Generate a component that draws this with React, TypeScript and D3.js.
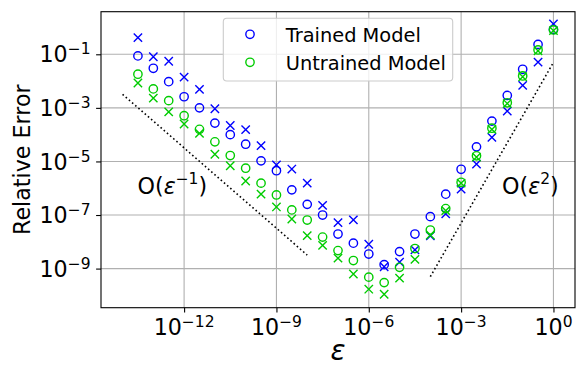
import React, { useEffect, useRef } from 'react';
import * as d3 from 'd3';

// epsilon values (half-decade steps, 10^-13.5 .. 10^0)
const eps = [
  3.16e-14, 1e-13, 3.16e-13, 1e-12, 3.16e-12, 1e-11, 3.16e-11, 1e-10, 3.16e-10, 1e-9,
  3.16e-9, 1e-8, 3.16e-8, 1e-7, 3.16e-7, 1e-6, 3.16e-6, 1e-5, 3.16e-5, 1e-4,
  3.16e-4, 1e-3, 3.16e-3, 1e-2, 3.16e-2, 1e-1, 3.16e-1, 1,
];

const trainedO = [
  8.7e-2, 3.0e-2, 9.5e-3, 2.6e-3, 1.0e-3, 2.7e-4, 1.0e-4, 4.4e-5, 1.05e-5, 4.5e-6,
  8.7e-7, 2.5e-7, 1.0e-7, 1.95e-8, 8.9e-9, 3.5e-9, 1.4e-9, 4.3e-9, 1.95e-8, 8.7e-8,
  6.0e-7, 5.1e-6, 3.5e-5, 3.2e-4, 2.9e-3, 2.75e-2, 0.234, 0.85,
];
const trainedX = [
  0.42, 8.1e-2, 5.5e-2, 1.4e-2, 4.9e-3, 9.3e-4, 2.2e-4, 1.55e-4, 3.9e-5, 7.4e-6,
  5.2e-6, 1.55e-6, 2.3e-7, 5.2e-8, 6.6e-8, 8.1e-9, 1.17e-9, 1.74e-9, 5.0e-9, 1.66e-8,
  1.1e-7, 9.3e-7, 7.9e-6, 7.9e-5, 7.6e-4, 6.9e-3, 5.1e-2, 1.35,
];
const untrainedO = [
  1.8e-2, 5.1e-3, 1.86e-3, 5.1e-4, 1.58e-4, 5.4e-5, 1.66e-5, 5.6e-6, 1.55e-6, 5.6e-7,
  1.55e-7, 6.5e-8, 1.5e-8, 4.7e-9, 2.0e-9, 4.8e-10, 3.0e-10, 1.12e-9, 5.6e-9, 2.75e-8,
  1.74e-7, 1.66e-6, 1.62e-5, 1.74e-4, 1.55e-3, 1.55e-2, 0.145, 0.81,
];
const untrainedX = [
  8.5e-3, 2.3e-3, 7.1e-4, 2.5e-4, 1.12e-4, 1.86e-5, 6.9e-6, 1.86e-6, 6.0e-7, 2.0e-7,
  7.1e-8, 1.7e-8, 7.4e-9, 2.45e-9, 6.3e-10, 1.7e-10, 1.1e-10, 4.4e-10, 2.2e-9, 1.8e-8,
  1.45e-7, 1.55e-6, 1.45e-5, 1.58e-4, 1.45e-3, 1.45e-2, 0.135, 0.76,
];

// reference slopes: O(eps^-1) and O(eps^2)
const slope1Eps = [1e-14, 1e-8];
const slope1Err = [3.2e-3, 3.2e-9];
const slope2Eps = [1e-4, 1];
const slope2Err = [5e-10, 5e-2];

const xTickExps = [-12, -9, -6, -3, 0];
const yTickExps = [-1, -3, -5, -7, -9];
const legendLabels = ['Trained Model', 'Untrained Model'];

const BLUE = '#0000ff';
const GREEN = '#00cc00';
const FONT = 'DejaVu Sans, sans-serif';

const App = () => {
  const svgRef = useRef<SVGSVGElement>(null);

  useEffect(() => {
    const width = 578;
    const height = 367;
    const svg = d3.select(svgRef.current).attr('width', width).attr('height', height);
    svg.selectAll('*').remove();

    const left = 101, right = 575, top = 11.7, bottom = 307.7;

    const x = d3.scaleLog().domain([10 ** -14.7, 10 ** 0.7]).range([left, right]);
    const y = d3.scaleLog().domain([10 ** -10.46, 10 ** 0.59]).range([bottom, top]);

    const xTicks = xTickExps.map((e) => 10 ** e);
    const yTicks = yTickExps.map((e) => 10 ** e);

    // grid
    const grid = svg.append('g').attr('stroke', '#b0b0b0').attr('stroke-width', 1.1);
    xTicks.forEach((t) => {
      grid.append('line').attr('x1', x(t)).attr('x2', x(t)).attr('y1', top).attr('y2', bottom);
    });
    yTicks.forEach((t) => {
      grid.append('line').attr('x1', left).attr('x2', right).attr('y1', y(t)).attr('y2', y(t));
    });

    // axes (ticks only, labels drawn with superscripts below)
    const xAxis = d3.axisBottom(x).tickValues(xTicks).tickSize(4.9).tickFormat(() => '');
    const yAxis = d3.axisLeft(y).tickValues(yTicks).tickSize(4.9).tickFormat(() => '');
    const gx = svg.append('g').attr('transform', `translate(0, ${bottom})`).call(xAxis);
    const gy = svg.append('g').attr('transform', `translate(${left}, 0)`).call(yAxis);
    [gx, gy].forEach((g) => {
      g.select('.domain').remove();
      g.selectAll('line').attr('stroke', '#000').attr('stroke-width', 1.1);
    });

    const supLabel = (sel, exp: number) => {
      sel.append('tspan').text('10');
      sel.append('tspan')
        .attr('font-size', 15.5)
        .attr('dy', -8)
        .text(exp < 0 ? `\u2212${Math.abs(exp)}` : `${exp}`);
    };

    xTickExps.forEach((e) => {
      const t = svg.append('text')
        .attr('x', x(10 ** e))
        .attr('y', 334.5)
        .attr('text-anchor', 'middle')
        .attr('font-family', FONT)
        .attr('font-size', 22.2)
        .attr('fill', '#000');
      supLabel(t, e);
    });
    yTickExps.forEach((e) => {
      const t = svg.append('text')
        .attr('x', 90.5)
        .attr('y', y(10 ** e) + 8.2)
        .attr('text-anchor', 'end')
        .attr('font-family', FONT)
        .attr('font-size', 22.2)
        .attr('fill', '#000');
      supLabel(t, e);
    });

    // axis titles
    svg.append('text')
      .attr('x', (left + right) / 2)
      .attr('y', 360)
      .attr('text-anchor', 'middle')
      .attr('font-family', FONT)
      .attr('font-style', 'italic')
      .attr('font-size', 27.8)
      .text('\u03b5');
    svg.append('text')
      .attr('transform', `translate(30, ${(top + bottom) / 2}) rotate(-90)`)
      .attr('text-anchor', 'middle')
      .attr('font-family', FONT)
      .attr('font-size', 22.2)
      .text('Relative Error');

    // reference slope lines
    const line = d3.line<[number, number]>().x((d) => x(d[0])).y((d) => y(d[1]));
    [[slope1Eps, slope1Err], [slope2Eps, slope2Err]].forEach(([ex, er]) => {
      svg.append('path')
        .datum(ex.map((v, i) => [v, er[i]] as [number, number]))
        .attr('d', line)
        .attr('fill', 'none')
        .attr('stroke', '#000')
        .attr('stroke-width', 1.6)
        .attr('stroke-dasharray', '1.6,2.6');
    });

    const annot = (ax: number, ay: number, sup: string) => {
      const t = svg.append('text')
        .attr('x', ax)
        .attr('y', ay)
        .attr('font-family', FONT)
        .attr('font-size', 22.2)
        .attr('fill', '#000');
      t.append('tspan').text('O(');
      t.append('tspan').attr('font-style', 'italic').text('\u03b5');
      t.append('tspan').attr('font-size', 15.5).attr('dy', -10.5).text(sup);
      t.append('tspan').attr('dy', 10.5).text(')');
    };
    annot(137.5, 194, '\u22121');
    annot(502, 194, '2');

    // markers
    const r = 4.17;
    const circles = (vals: number[], color: string) => {
      svg.append('g').selectAll('circle')
        .data(vals)
        .enter()
        .append('circle')
        .attr('cx', (d, i) => x(eps[i]))
        .attr('cy', (d) => y(d))
        .attr('r', r)
        .attr('fill', 'none')
        .attr('stroke', color)
        .attr('stroke-width', 1.4);
    };
    const crosses = (vals: number[], color: string) => {
      svg.append('g').selectAll('path')
        .data(vals)
        .enter()
        .append('path')
        .attr('d', (d, i) => {
          const cx = x(eps[i]);
          const cy = y(d);
          return `M${cx - r},${cy - r}L${cx + r},${cy + r}M${cx - r},${cy + r}L${cx + r},${cy - r}`;
        })
        .attr('fill', 'none')
        .attr('stroke', color)
        .attr('stroke-width', 1.4);
    };
    circles(trainedO, BLUE);
    crosses(trainedX, BLUE);
    circles(untrainedO, GREEN);
    crosses(untrainedX, GREEN);

    // legend
    const lg = svg.append('g');
    lg.append('rect')
      .attr('x', 223.3)
      .attr('y', 18.3)
      .attr('width', 229.4)
      .attr('height', 62.7)
      .attr('rx', 3.5)
      .attr('fill', '#fff')
      .attr('fill-opacity', 0.8)
      .attr('stroke', '#cccccc')
      .attr('stroke-width', 1.1);
    legendLabels.forEach((label, i) => {
      const ly = 34.3 + i * 28;
      lg.append('circle')
        .attr('cx', 250)
        .attr('cy', ly)
        .attr('r', r)
        .attr('fill', 'none')
        .attr('stroke', i === 0 ? BLUE : GREEN)
        .attr('stroke-width', 1.4);
      lg.append('text')
        .attr('x', 285.7)
        .attr('y', ly + 7.2)
        .attr('font-family', FONT)
        .attr('font-size', 19.4)
        .attr('fill', '#000')
        .text(label);
    });

    // frame
    svg.append('rect')
      .attr('x', left)
      .attr('y', top)
      .attr('width', right - left)
      .attr('height', bottom - top)
      .attr('fill', 'none')
      .attr('stroke', '#000')
      .attr('stroke-width', 1.1);
  }, []);

  return <svg ref={svgRef} style={{ position: 'absolute', left: 0, top: 0 }} />;
};

export default App;
